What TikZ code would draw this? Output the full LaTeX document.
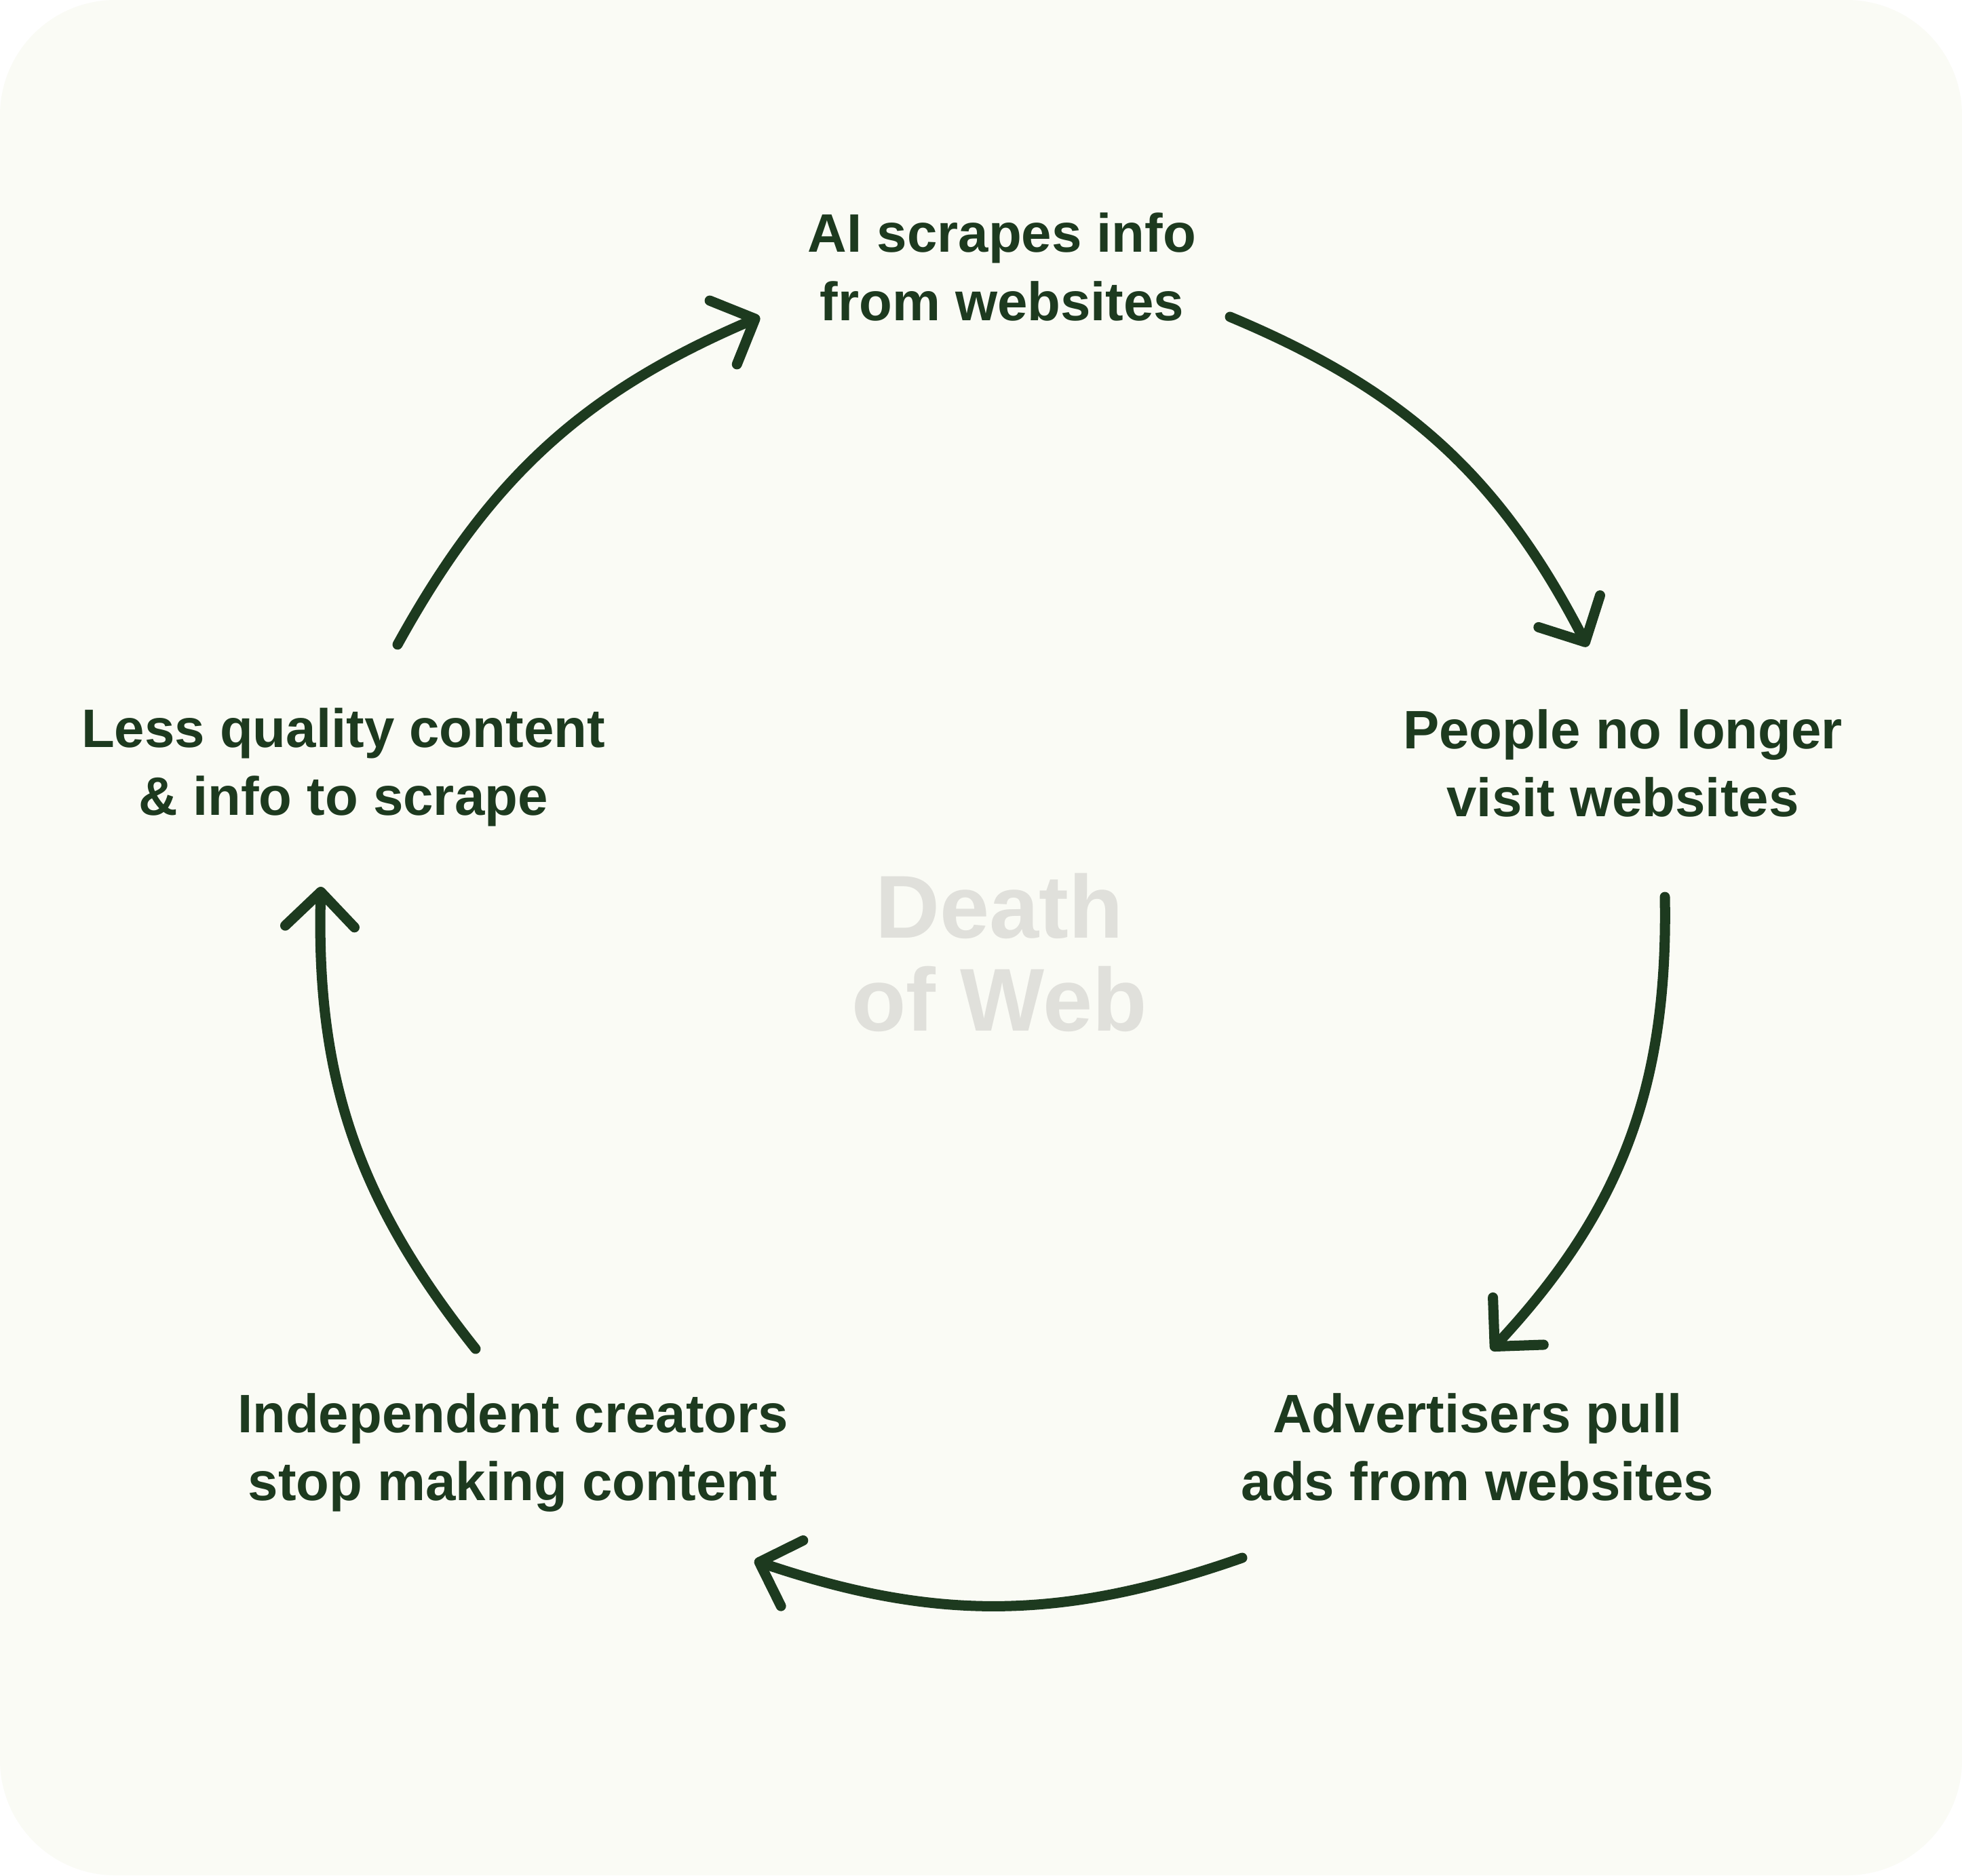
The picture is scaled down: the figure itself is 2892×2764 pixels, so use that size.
\documentclass[tikz,border=0pt]{standalone}
\usepackage{fontspec}
\setmainfont{Liberation Sans}
\usetikzlibrary{arrows.meta}
\definecolor{ink}{HTML}{1D3A1F}
\definecolor{paper}{HTML}{FAFBF5}
\definecolor{ghost}{HTML}{E0E0DB}
\tikzset{
  steptext/.style={anchor=base, text=ink, inner sep=0pt,
    font=\fontsize{22.7}{28.45}\selectfont\bfseries},
  hubtext/.style={anchor=base, text=ghost, inner sep=0pt,
    font=\fontsize{37.4}{39}\selectfont\bfseries},
  flow/.style={draw=ink, line width=0.15cm, line cap=round, line join=round,
    -{Straight Barb[length=0.51cm,width=1.02cm,round]}}
}
\begin{document}
\begin{tikzpicture}[x=0.01cm,y=0.01cm]
\useasboundingbox (0,0) rectangle (2892,-2764);
\fill[white] (0,0) rectangle (2892,-2764);
\fill[paper, rounded corners=1.7cm] (0,0) rectangle (2892,-2764);

\node[steptext] (ai) at (1477,-372) {\begin{tabular}[t]{@{}c@{}}AI scrapes info\\from websites\end{tabular}};
\node[steptext] (people) at (2392,-1103) {\begin{tabular}[t]{@{}c@{}}People no longer\\visit websites\end{tabular}};
\node[steptext] (ads) at (2178,-2111) {\begin{tabular}[t]{@{}c@{}}Advertisers pull\\ads from websites\end{tabular}};
\node[steptext] (creators) at (756,-2111) {\begin{tabular}[t]{@{}c@{}}Independent creators\\stop making content\end{tabular}};
\node[steptext] (less) at (506,-1101) {\begin{tabular}[t]{@{}c@{}}Less quality content\\\& info to scrape\end{tabular}};
\node[hubtext] (hub) at (1473,-1382) {\begin{tabular}[t]{@{}c@{}}Death\\of Web\end{tabular}};

\coordinate (s1) at (586,-950);   \coordinate (e1) at (1120,-467);
\coordinate (s2) at (1813,-467);  \coordinate (e2) at (2340,-953);
\coordinate (s3) at (2454,-1322); \coordinate (e3) at (2198,-1990);
\coordinate (s4) at (1831,-2296); \coordinate (e4) at (1112,-2300);
\coordinate (s5) at (701,-1988);  \coordinate (e5) at (473,-1307);

\draw[flow] (s1) to[bend left=19] (e1);
\draw[flow] (s2) to[bend left=20] (e2);
\draw[flow] (s3) to[bend left=22] (e3);
\draw[flow] (s4) to[bend left=19] (e4);
\draw[flow] (s5) to[bend left=20] (e5);
\end{tikzpicture}
\end{document}
